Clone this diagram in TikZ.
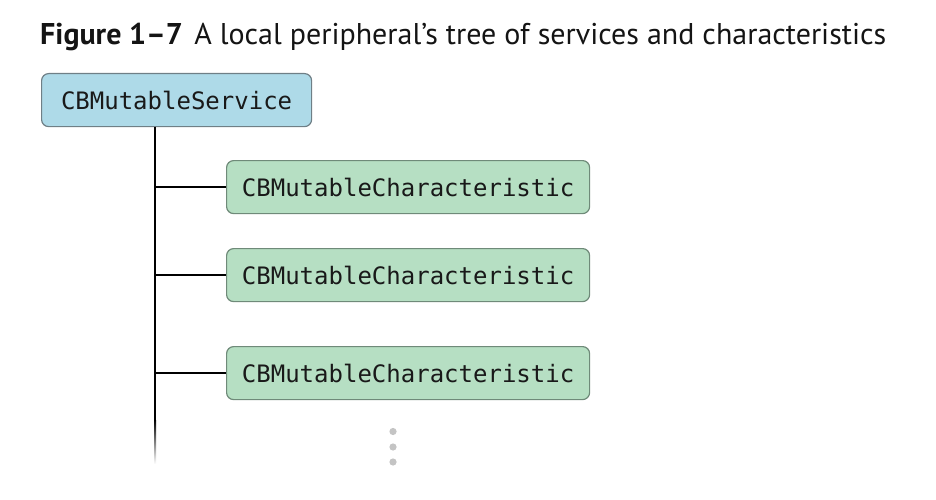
\documentclass[tikz,border=0pt]{standalone}
\usepackage{fontspec}
\setmainfont{PT Sans}
\newfontfamily\monofont{DejaVu Sans Mono}
\definecolor{svcfill}{HTML}{AEDAE8}
\definecolor{svcdraw}{HTML}{6F7F86}
\definecolor{chfill}{HTML}{B6DFC3}
\definecolor{chdraw}{HTML}{6F8A79}
\definecolor{dotgray}{HTML}{C4C4C4}
\begin{document}
\begin{tikzpicture}[x=1pt,y=-1pt,
  box/.style={draw, line width=1.2pt, rounded corners=7pt, anchor=north west, inner sep=0pt,
    font=\monofont\fontsize{24}{26}\selectfont, text=black!90},
  svc/.style={box, fill=svcfill, draw=svcdraw},
  chr/.style={box, fill=chfill, draw=chdraw, minimum width=363pt, minimum height=53pt},
  tree/.style={line width=2pt, black}]
\useasboundingbox (0,0) rectangle (936,500);
\node[anchor=base west, inner sep=0pt, font=\fontsize{30}{33}\selectfont, text=black!92] (title) at (40,45)
  {\textbf{Figure 1–7}\hspace{0.38em}A local peripheral’s tree of services and characteristics};
\node[svc, minimum width=270pt, minimum height=53pt] (svc) at (41,73) {CBMutableService};
\node[chr] (c1) at (226,160) {CBMutableCharacteristic};
\node[chr] (c2) at (226,248) {CBMutableCharacteristic};
\node[chr] (c3) at (226,346) {CBMutableCharacteristic};
\coordinate (top) at (155,126.6);
\coordinate (fade) at (155,420);
\coordinate (bot) at (155,464);
\draw[tree] (top) -- (fade);
\shade[top color=black, bottom color=white] (154,420) rectangle (156,464);
\draw[tree] (155,0 |- c1.west) -- (c1.west);
\draw[tree] (155,0 |- c2.west) -- (c2.west);
\draw[tree] (155,0 |- c3.west) -- (c3.west);
\fill[dotgray] (393,431.5) circle (3.6) (393,447) circle (3.6) (393,462) circle (3.6);
\end{tikzpicture}
\end{document}
